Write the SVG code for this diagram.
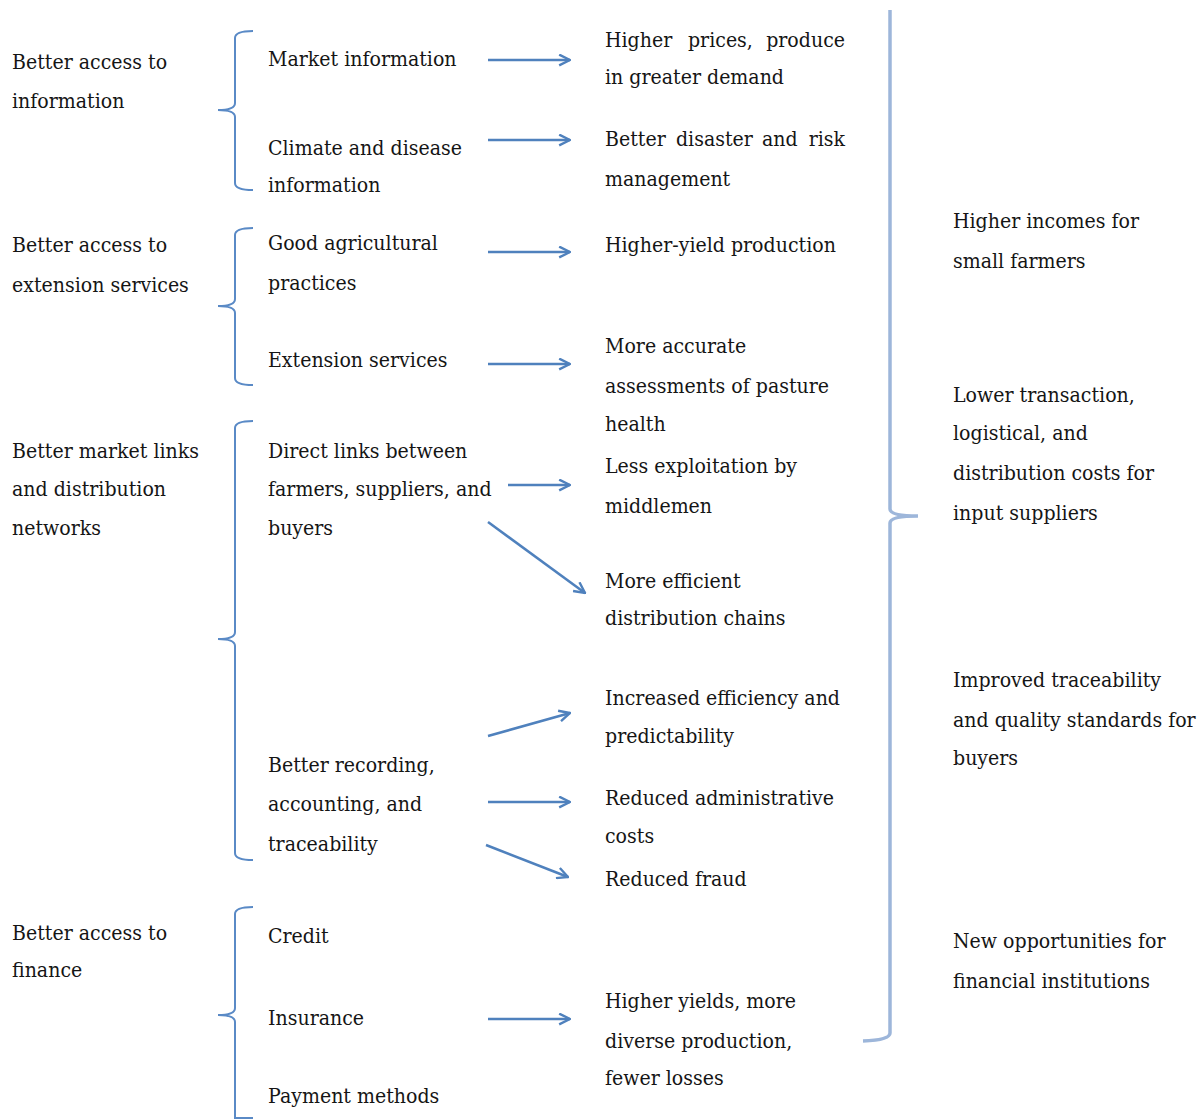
<svg xmlns="http://www.w3.org/2000/svg" width="1200" height="1120" viewBox="0 0 1200 1120">
<defs>
<style>
.t text{font-size:21px;fill:#151515}
.br{fill:none;stroke:#5a8ac6;stroke-width:2}
.big{fill:none;stroke:#9db6da;stroke-width:3.5}
.ar{fill:none;stroke:#4f81bd;stroke-width:2.5;marker-end:url(#ah)}
</style>
<marker id="ah" viewBox="0 0 12 12" refX="11" refY="6" markerWidth="13" markerHeight="13" markerUnits="userSpaceOnUse" orient="auto">
<path d="M1,1 L11,6 L1,11" fill="none" stroke="#4f81bd" stroke-width="2.2"/>
</marker>
</defs>
<rect width="1200" height="1120" fill="#fff"/>

<g class="t" font-family="'DejaVu Serif', 'Liberation Serif', serif">
<g id="left-column" transform="matrix(0.904,0,0,1,12,0)">
<g id="n-info"><text x="0" y="69">Better access to</text><text x="0" y="108">information</text></g>
<g id="n-ext"><text x="0" y="252">Better access to</text><text x="0" y="292">extension services</text></g>
<g id="n-market"><text x="0" y="458">Better market links</text><text x="0" y="496">and distribution</text><text x="0" y="535">networks</text></g>
<g id="n-finance"><text x="0" y="940">Better access to</text><text x="0" y="977">finance</text></g>
</g>

<g id="middle-column" transform="matrix(0.904,0,0,1,268,0)">
<g id="m-market"><text x="0" y="66">Market information</text></g>
<g id="m-climate"><text x="0" y="155">Climate and disease</text><text x="0" y="192">information</text></g>
<g id="m-gap"><text x="0" y="250">Good agricultural</text><text x="0" y="290">practices</text></g>
<g id="m-extension"><text x="0" y="367">Extension services</text></g>
<g id="m-direct"><text x="0" y="458">Direct links between</text><text x="0" y="496">farmers, suppliers, and</text><text x="0" y="535">buyers</text></g>
<g id="m-recording"><text x="0" y="772">Better recording,</text><text x="0" y="811">accounting, and</text><text x="0" y="851">traceability</text></g>
<g id="m-credit"><text x="0" y="943">Credit</text></g>
<g id="m-insurance"><text x="0" y="1025">Insurance</text></g>
<g id="m-payment"><text x="0" y="1103">Payment methods</text></g>
</g>

<g id="outcomes" transform="matrix(0.904,0,0,1,605,0)">
<g id="o-prices"><text y="47"><tspan x="0">Higher</tspan><tspan x="91.8">prices,</tspan><tspan x="265.5" text-anchor="end">produce</tspan></text><text x="0" y="84">in greater demand</text></g>
<g id="o-disaster"><text y="146"><tspan x="0">Better</tspan><tspan x="78.5">disaster</tspan><tspan x="173.7">and</tspan><tspan x="265.5" text-anchor="end">risk</tspan></text><text x="0" y="186">management</text></g>
<g id="o-yield"><text x="0" y="252">Higher-yield production</text></g>
<g id="o-pasture"><text x="0" y="353">More accurate</text><text x="0" y="393">assessments of pasture</text><text x="0" y="431">health</text></g>
<g id="o-middlemen"><text x="0" y="473">Less exploitation by</text><text x="0" y="513">middlemen</text></g>
<g id="o-chains"><text x="0" y="588">More efficient</text><text x="0" y="625">distribution chains</text></g>
<g id="o-efficiency"><text x="0" y="705">Increased efficiency and</text><text x="0" y="743">predictability</text></g>
<g id="o-admin"><text x="0" y="805">Reduced administrative</text><text x="0" y="843">costs</text></g>
<g id="o-fraud"><text x="0" y="886">Reduced fraud</text></g>
<g id="o-yields"><text x="0" y="1008">Higher yields, more</text><text x="0" y="1048">diverse production,</text><text x="0" y="1085">fewer losses</text></g>
</g>

<g id="impacts" transform="matrix(0.904,0,0,1,953,0)">
<g id="i-farmers"><text x="0" y="228">Higher incomes for</text><text x="0" y="268">small farmers</text></g>
<g id="i-suppliers"><text x="0" y="402">Lower transaction,</text><text x="0" y="440">logistical, and</text><text x="0" y="480">distribution costs for</text><text x="0" y="520">input suppliers</text></g>
<g id="i-buyers"><text x="0" y="687">Improved traceability</text><text x="0" y="727">and quality standards for</text><text x="0" y="765">buyers</text></g>
<g id="i-finance"><text x="0" y="948">New opportunities for</text><text x="0" y="988">financial institutions</text></g>
</g>
</g>

<g id="connectors">
<path class="br" d="M253,31 Q235,31 235,38 V103 Q235,110 218,110 Q235,110 235,117 V183 Q235,190 253,190"/>
<path class="br" d="M253,228 Q235,228 235,235 V299 Q235,306 218,306 Q235,306 235,313 V378 Q235,385 253,385"/>
<path class="br" d="M253,421 Q235,421 235,428 V632 Q235,639 218,639 Q235,639 235,646 V853 Q235,860 253,860"/>
<path class="br" d="M253,907 Q235,907 235,914 V1008 Q235,1015 218,1015 Q235,1015 235,1022 V1118 H253"/>
<path class="big" d="M890,10 V509 Q890,516 918,516 Q890,516 890,523 V1033 Q890,1040 863,1041"/>
<line class="ar" x1="488" y1="60" x2="570" y2="60"/>
<line class="ar" x1="488" y1="140" x2="570" y2="140"/>
<line class="ar" x1="488" y1="252" x2="570" y2="252"/>
<line class="ar" x1="488" y1="364" x2="570" y2="364"/>
<line class="ar" x1="508" y1="485" x2="570" y2="485"/>
<line class="ar" x1="488" y1="522" x2="585" y2="593"/>
<line class="ar" x1="488" y1="736" x2="570" y2="713"/>
<line class="ar" x1="488" y1="802" x2="570" y2="802"/>
<line class="ar" x1="486" y1="845" x2="568" y2="877"/>
<line class="ar" x1="488" y1="1019" x2="570" y2="1019"/>
</g>
</svg>
